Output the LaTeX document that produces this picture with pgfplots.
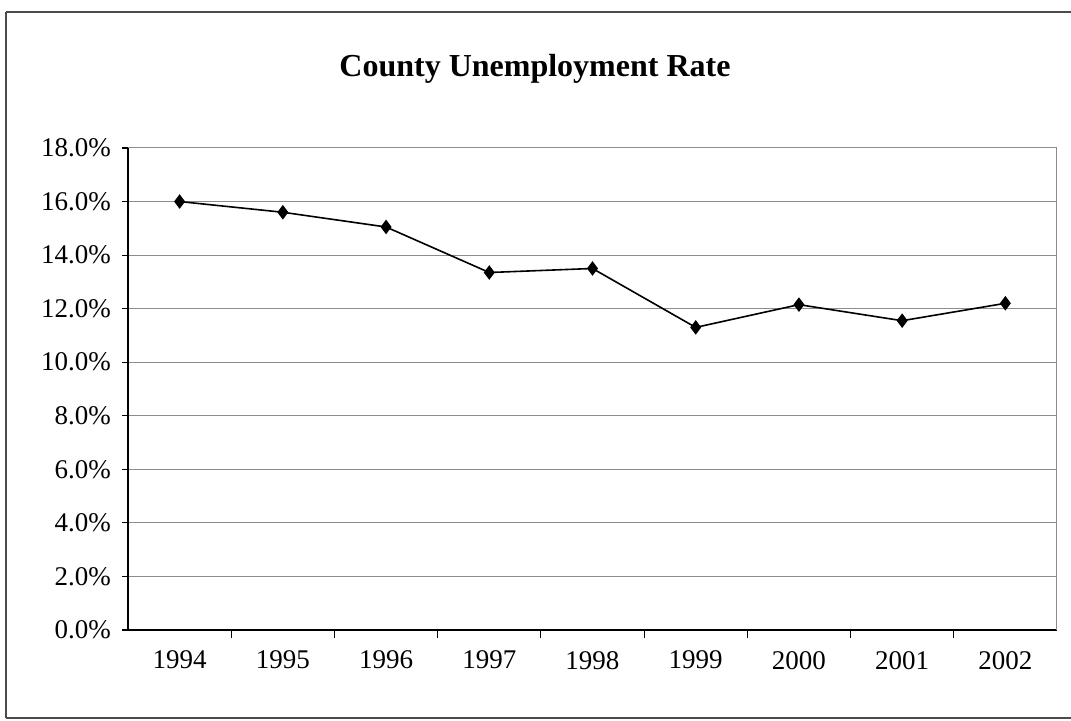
\documentclass[border=0pt]{standalone}
\usepackage{pgfplots}
\pgfplotsset{compat=1.18}
\usepackage{fontspec}
\setmainfont{Liberation Serif}

\begin{document}
\begin{tikzpicture}
\path[use as bounding box] (0pt,0pt) rectangle (535.5pt,360.5pt);
% outer chart frame (partial, as in the scan)
\draw[black!70, line width=0.6pt] (3pt,354.5pt) -- (535.5pt,354.5pt);
\draw[black!70, line width=0.6pt] (3pt,354.5pt) -- (3pt,1.5pt);
\draw[black!70, line width=0.6pt] (3pt,1.5pt) -- (535.5pt,1.5pt);
\node[font=\bfseries\fontsize{16}{19}\selectfont] at (267.5pt,326pt) {County Unemployment Rate};
\begin{axis}[
  at={(64pt,45.5pt)}, anchor=south west,
  scale only axis,
  width=464.5pt, height=241pt,
  xmin=-0.5, xmax=8.5,
  ymin=0, ymax=18,
  axis x line*=bottom, axis y line*=left,
  axis line style={-, black, line width=0.8pt},
  xtick={0,...,8},
  xticklabels={1994,1995,1996,1997,1998,1999,2000,2001,2002},
  minor xtick={0.5,1.5,...,7.5},
  major x tick style={draw=none},
  minor x tick style={black, line width=0.6pt},
  minor tick length=4pt,
  tick align=outside,
  ytick={0,2,...,18},
  major tick length=3pt,
  y tick style={black, line width=0.6pt},
  ymajorgrids,
  major grid style={black!45, line width=0.5pt},
  yticklabel={\pgfmathprintnumber[fixed,fixed zerofill,precision=1]{\tick}\%},
  /pgf/number format/assume math mode=true,
  tick label style={font=\fontsize{13.5}{16}\selectfont},
  xticklabel style={yshift=-4pt},
  yticklabel style={xshift=-2pt},
  clip=false,
]
\draw[black!45, line width=0.5pt] (rel axis cs:1,0) -- (rel axis cs:1,1);
\addplot[black, line width=0.8pt, mark=diamond*, mark size=3pt] coordinates {
  (0,16.0) (1,15.6) (2,15.05) (3,13.35) (4,13.5) (5,11.3) (6,12.15) (7,11.55) (8,12.2)
};
\end{axis}
\end{tikzpicture}
\end{document}
